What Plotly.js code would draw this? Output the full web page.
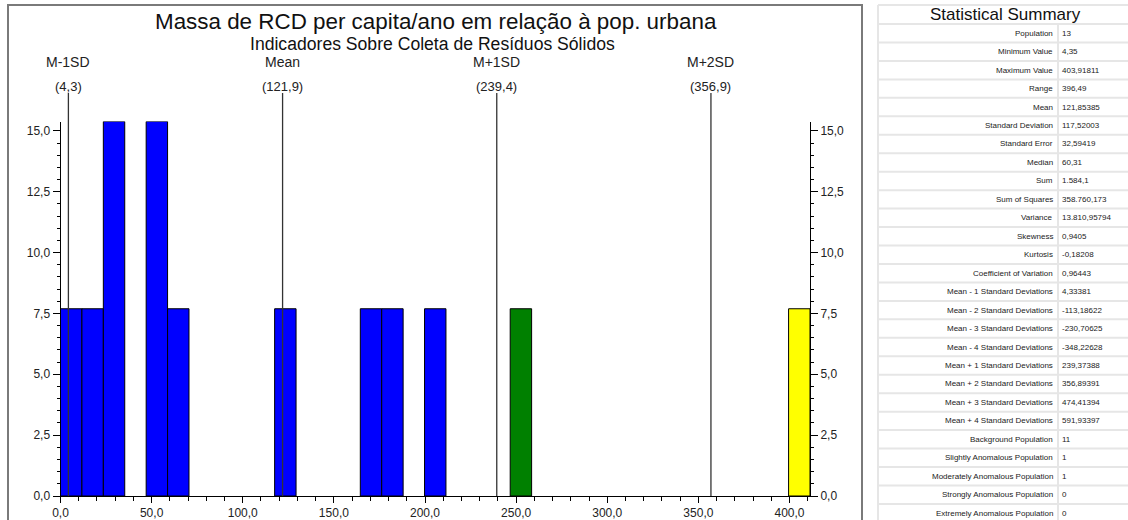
<!DOCTYPE html>
<html>
<head>
<meta charset="utf-8">
<script src="https://cdn.plot.ly/plotly-3.0.1.min.js"></script>
<style>html,body{margin:0;padding:0;background:#fff;}#chart{width:1128px;height:520px;}</style>
</head>
<body>
<div id="chart"></div>
<script>
// ---- Data ----
const binStart = [0, 11.75, 23.5, 47, 58.75, 117.5, 164.5, 176.25, 199.75, 246.75, 399.5];
const binWidth = 11.75;
const binCounts = [1, 1, 2, 2, 1, 1, 1, 1, 1, 1, 1];
const binClass = ['background','background','background','background','background','background','background','background','background','slight','moderate'];
const population = 13;

const sdNames = ['M-1SD', 'Mean', 'M+1SD', 'M+2SD'];
const sdValues = [4.33381, 121.85385, 239.37388, 356.89391];

const statLabels = ['Population','Minimum Value','Maximum Value','Range','Mean','Standard Deviation','Standard Error','Median','Sum','Sum of Squares','Variance','Skewness','Kurtosis','Coefficient of Variation','Mean - 1 Standard Deviations','Mean - 2 Standard Deviations','Mean - 3 Standard Deviations','Mean - 4 Standard Deviations','Mean + 1 Standard Deviations','Mean + 2 Standard Deviations','Mean + 3 Standard Deviations','Mean + 4 Standard Deviations','Background Population','Slightly Anomalous Population','Moderately Anomalous Population','Strongly Anomalous Population','Extremely Anomalous Population'];
const statValues = ['13','4,35','403,91811','396,49','121,85385','117,52003','32,59419','60,31','1.584,1','358.760,173','13.810,95794','0,9405','-0,18208','0,96443','4,33381','-113,18622','-230,70625','-348,22628','239,37388','356,89391','474,41394','591,93397','11','1','1','0','0'];

const classColors = {background: '#0000FF', slight: '#008000', moderate: '#FFFF00'};

// ---- Geometry helpers (pixel -> paper) ----
const W = 1128, H = 520;
const px = v => v / W;
const py = v => 1 - v / H;
const FONT = 'Liberation Sans, Arial, sans-serif';

const pct = binCounts.map(c => c / population * 100);
const centers = binStart.map(s => s + binWidth / 2);

const traces = [{
  type: 'bar',
  x: centers,
  y: pct,
  width: binStart.map(() => binWidth),
  marker: {color: binClass.map(c => classColors[c]), line: {color: '#000', width: 1}},
  hoverinfo: 'x+y',
  showlegend: false,
  cliponaxis: false,
  xaxis: 'x', yaxis: 'y'
}, {
  // invisible companion so the right-hand percentage axis is drawn
  type: 'scatter', mode: 'markers',
  x: [centers[0]], y: [0],
  marker: {opacity: 0},
  hoverinfo: 'skip', showlegend: false,
  xaxis: 'x', yaxis: 'y2'
}];

const shapes = [];
const annotations = [];

// chart frame
shapes.push({type:'rect', xref:'paper', yref:'paper', x0:px(8), x1:px(862), y0:py(530), y1:py(5), line:{color:'#7a7a7a', width:2}, layer:'below'});

// SD lines + labels
const fmt1 = v => v.toFixed(1).replace('.', ',');
sdValues.forEach((v, i) => {
  shapes.push({type:'line', xref:'x', yref:'paper', x0:v, x1:v, y0:py(496), y1:py(93), line:{color:'#333', width:1.3}});
  annotations.push({xref:'x', yref:'paper', x:v, y:py(62), text:sdNames[i], showarrow:false, font:{family:FONT, size:14, color:'#222'}, xanchor:'center', yanchor:'middle'});
  annotations.push({xref:'x', yref:'paper', x:v, y:py(87), text:'(' + fmt1(v) + ')', showarrow:false, font:{family:FONT, size:13, color:'#222'}, xanchor:'center', yanchor:'middle'});
});

// titles
annotations.push({xref:'paper', yref:'paper', x:px(436), y:py(22), text:'Massa de RCD per capita/ano em relação à pop. urbana', showarrow:false, font:{family:FONT, size:22.4, color:'#111'}, xanchor:'center', yanchor:'middle'});
annotations.push({xref:'paper', yref:'paper', x:px(432), y:py(44), text:'Indicadores Sobre Coleta de Resíduos Sólidos', showarrow:false, font:{family:FONT, size:17.6, color:'#111'}, xanchor:'center', yanchor:'middle'});

// Statistical summary panel
const gridC = '#e6e6e6';
shapes.push({type:'line', xref:'paper', yref:'paper', x0:px(878), x1:px(1128), y0:py(5), y1:py(5), line:{color:gridC, width:2}});
shapes.push({type:'line', xref:'paper', yref:'paper', x0:px(878), x1:px(878), y0:py(5), y1:py(520), line:{color:gridC, width:2}});
shapes.push({type:'line', xref:'paper', yref:'paper', x0:px(1058), x1:px(1058), y0:py(24), y1:py(520), line:{color:gridC, width:2}});
const rowH = 18.46;
for (let k = 0; k <= statLabels.length; k++) {
  const yy = 24 + k * rowH;
  if (yy > 520) break;
  shapes.push({type:'line', xref:'paper', yref:'paper', x0:px(878), x1:px(1128), y0:py(yy), y1:py(yy), line:{color:gridC, width:2}});
}
annotations.push({xref:'paper', yref:'paper', x:px(1005), y:py(14), text:'Statistical Summary', showarrow:false, font:{family:FONT, size:17, color:'#111'}, xanchor:'center', yanchor:'middle'});
statLabels.forEach((lab, i) => {
  const yy = 24 + (i + 0.5) * rowH;
  annotations.push({xref:'paper', yref:'paper', x:px(1055), y:py(yy), text:lab, showarrow:false, font:{family:FONT, size:8, color:'#222'}, xanchor:'right', yanchor:'middle'});
  annotations.push({xref:'paper', yref:'paper', x:px(1060), y:py(yy), text:statValues[i], showarrow:false, font:{family:FONT, size:8, color:'#222'}, xanchor:'left', yanchor:'middle'});
});

const yRange = [0, Math.max(...pct)];
const yDomain = [1 - 496 / H, 1 - 121.5 / H];
const tickFont = {family: FONT, size: 12, color: '#222'};

const layout = {
  width: W, height: H,
  margin: {l:0, r:0, t:0, b:0},
  paper_bgcolor: '#fff', plot_bgcolor: '#fff',
  separators: ',.',
  showlegend: false,
  bargap: 0,
  xaxis: {
    domain: [px(60.5), px(810)], range: [0, 411.25],
    showgrid: false, zeroline: false, showline: true, linecolor: '#000', linewidth: 1,
    ticks: 'outside', ticklen: 6, tickcolor: '#000', dtick: 50, tick0: 0, tickformat: '.1f',
    tickfont: tickFont,
    minor: {dtick: 10, ticks: 'outside', ticklen: 4, tickcolor: '#000'},
    anchor: 'y', fixedrange: true
  },
  yaxis: {
    domain: yDomain, range: yRange,
    showgrid: false, zeroline: false, showline: true, linecolor: '#000', linewidth: 1,
    ticks: 'outside', ticklen: 7, tickcolor: '#000', dtick: 2.5, tick0: 0, tickformat: '.1f',
    tickfont: tickFont,
    minor: {dtick: 0.5, ticks: 'outside', ticklen: 3, tickcolor: '#000'},
    anchor: 'x', fixedrange: true
  },
  yaxis2: {
    overlaying: 'y', side: 'right', anchor: 'x', range: yRange,
    showgrid: false, zeroline: false, showline: true, linecolor: '#000', linewidth: 1,
    ticks: 'outside', ticklen: 7, tickcolor: '#000', dtick: 2.5, tick0: 0, tickformat: '.1f',
    tickfont: tickFont,
    minor: {dtick: 0.5, ticks: 'outside', ticklen: 3, tickcolor: '#000'},
    fixedrange: true
  },
  shapes: shapes,
  annotations: annotations
};

Plotly.newPlot('chart', traces, layout, {displayModeBar: false, staticPlot: true});
</script>
</body>
</html>
